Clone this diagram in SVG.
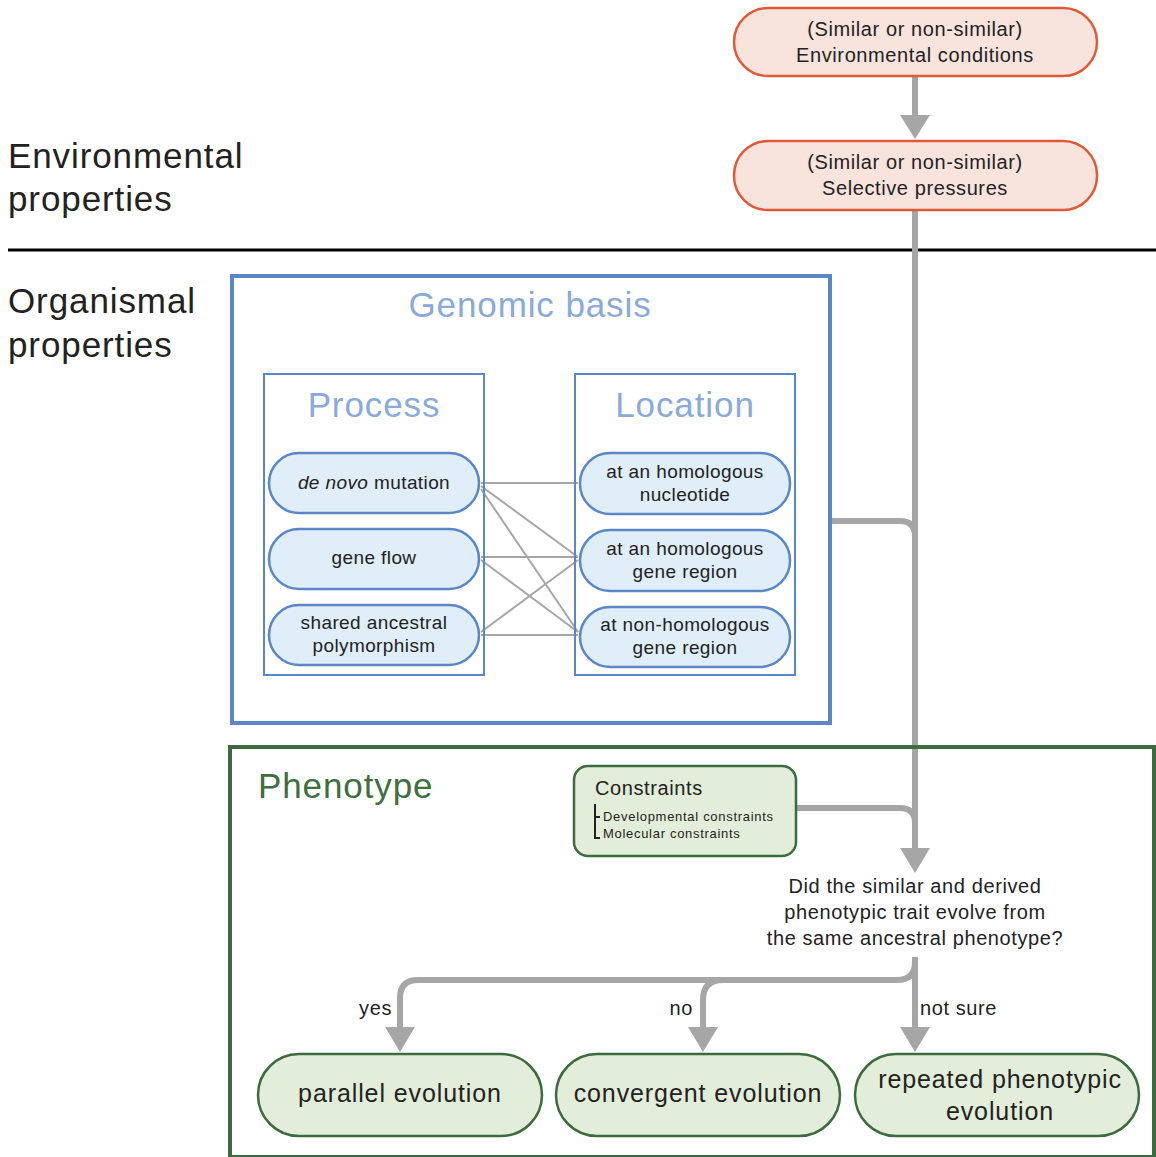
<svg xmlns="http://www.w3.org/2000/svg" width="1156" height="1157" viewBox="0 0 1156 1157">
<style>
text{font-family:"Liberation Sans",Arial,sans-serif;fill:#222}
.env{fill:#f9e4dd;stroke:#e05a3a;stroke-width:2.5}
.blue{fill:#dfeef8;stroke:#5b87c7;stroke-width:2.5}
.green{fill:#e2eed9;stroke:#3d6b3f;stroke-width:2.5}
.conn{fill:none;stroke:#a6a6a6;stroke-width:6}
.thin{fill:none;stroke:#a6a6a6;stroke-width:2}
.head{fill:#a6a6a6}
.big{font-size:35px;letter-spacing:0.9px}
.mid{font-size:20px;letter-spacing:0.6px}
.pill{font-size:19px;letter-spacing:0.4px}
.res{font-size:25px;letter-spacing:0.9px}
.small{font-size:13px;letter-spacing:0.7px}
.c{text-anchor:middle}
</style>
<rect width="1156" height="1157" fill="#fff"/>
<g id="labels">
<text class="big" x="8" y="168">Environmental</text>
<text class="big" x="8" y="211">properties</text>
<text class="big" x="8" y="313">Organismal</text>
<text class="big" x="8" y="357">properties</text>
<line x1="8" y1="250" x2="1156" y2="250" stroke="#000" stroke-width="3"/>
</g>
<g id="connectors">
<line class="conn" x1="915" y1="76" x2="915" y2="116"/>
<polygon class="head" points="900,115 930,115 915,139"/>
<line class="conn" x1="915" y1="210" x2="915" y2="850"/>
<polygon class="head" points="900,848 930,848 915,873"/>
<path class="conn" d="M830,521 H900 Q915,521 915,536"/>
<path class="conn" d="M796,808 H900 Q915,808 915,823"/>
<line class="conn" x1="915" y1="957" x2="915" y2="1029"/>
<polygon class="head" points="900,1027 930,1027 915,1052"/>
<path class="conn" d="M915,962 Q915,980 897,980 H418 Q400,980 400,998 V1029"/>
<polygon class="head" points="385,1027 415,1027 400,1052"/>
<path class="conn" d="M723,980 Q703,980 703,1000 V1029"/>
<polygon class="head" points="688,1027 718,1027 703,1052"/>
<line class="thin" x1="481" y1="483" x2="578" y2="483"/>
<line class="thin" x1="481" y1="486" x2="578" y2="557"/>
<line class="thin" x1="481" y1="489" x2="578" y2="632"/>
<line class="thin" x1="481" y1="557" x2="578" y2="557"/>
<line class="thin" x1="481" y1="560" x2="578" y2="632"/>
<line class="thin" x1="481" y1="632" x2="578" y2="560"/>
<line class="thin" x1="481" y1="635" x2="578" y2="635"/>
</g>
<g id="env-conditions">
<rect class="env" x="734" y="8" width="363" height="68" rx="34"/>
<text class="mid c" x="915" y="36">(Similar or non-similar)</text>
<text class="mid c" x="915" y="62">Environmental conditions</text>
</g>
<g id="selective-pressures">
<rect class="env" x="734" y="141" width="363" height="69" rx="34"/>
<text class="mid c" x="915" y="169">(Similar or non-similar)</text>
<text class="mid c" x="915" y="195">Selective pressures</text>
</g>
<g id="genomic-basis">
<rect x="232" y="276" width="598" height="447" fill="none" stroke="#5b87c7" stroke-width="4"/>
<text class="big c" x="530" y="317" style="fill:#8aaad8">Genomic basis</text>
</g>
<g id="process">
<rect x="264" y="374" width="220" height="301" fill="none" stroke="#5b87c7" stroke-width="2"/>
<text class="big c" x="374" y="417" style="fill:#8aaad8">Process</text>
</g>
<g id="location">
<rect x="575" y="374" width="220" height="301" fill="none" stroke="#5b87c7" stroke-width="2"/>
<text class="big c" x="685" y="417" style="fill:#8aaad8">Location</text>
</g>
<g id="de-novo">
<rect class="blue" x="269" y="453" width="210" height="60" rx="30"/>
<text class="pill c" x="374" y="489"><tspan font-style="italic">de novo</tspan> mutation</text>
</g>
<g id="gene-flow">
<rect class="blue" x="269" y="529" width="210" height="60" rx="30"/>
<text class="pill c" x="374" y="564">gene flow</text>
</g>
<g id="shared-ancestral">
<rect class="blue" x="269" y="605" width="210" height="60" rx="30"/>
<text class="pill c" x="374" y="629">shared ancestral</text>
<text class="pill c" x="374" y="652">polymorphism</text>
</g>
<g id="homologous-nucleotide">
<rect class="blue" x="580" y="453" width="210" height="61" rx="30"/>
<text class="pill c" x="685" y="478">at an homologous</text>
<text class="pill c" x="685" y="501">nucleotide</text>
</g>
<g id="homologous-gene-region">
<rect class="blue" x="580" y="530" width="210" height="61" rx="30"/>
<text class="pill c" x="685" y="555">at an homologous</text>
<text class="pill c" x="685" y="578">gene region</text>
</g>
<g id="non-homologous-gene-region">
<rect class="blue" x="580" y="607" width="210" height="60" rx="30"/>
<text class="pill c" x="685" y="631">at non-homologous</text>
<text class="pill c" x="685" y="654">gene region</text>
</g>
<g id="phenotype">
<rect x="230" y="747" width="924" height="410" fill="none" stroke="#3d6b3f" stroke-width="4"/>
<text class="big" x="258" y="798" style="fill:#3f6e41">Phenotype</text>
</g>
<g id="constraints">
<rect class="green" x="574" y="766" width="222" height="90" rx="14"/>
<text class="mid" x="595" y="795">Constraints</text>
<path d="M600,817 H595 V804 M595,817 V838 H600" fill="none" stroke="#222" stroke-width="2"/>
<text class="small" x="603" y="821">Developmental constraints</text>
<text class="small" x="603" y="838">Molecular constraints</text>
</g>
<g id="question">
<text class="mid c" x="915" y="893">Did the similar and derived</text>
<text class="mid c" x="915" y="919">phenotypic trait evolve from</text>
<text class="mid c" x="915" y="945">the same ancestral phenotype?</text>
</g>
<g id="branch-labels">
<text class="mid" x="392" y="1015" text-anchor="end">yes</text>
<text class="mid" x="693" y="1015" text-anchor="end">no</text>
<text class="mid" x="920" y="1015">not sure</text>
</g>
<g id="parallel">
<rect class="green" x="258" y="1054" width="284" height="82" rx="41"/>
<text class="res c" x="400" y="1102">parallel evolution</text>
</g>
<g id="convergent">
<rect class="green" x="556" y="1054" width="284" height="82" rx="41"/>
<text class="res c" x="698" y="1102">convergent evolution</text>
</g>
<g id="repeated">
<rect class="green" x="855" y="1054" width="284" height="82" rx="41"/>
<text class="res c" x="1000" y="1088">repeated phenotypic</text>
<text class="res c" x="1000" y="1120">evolution</text>
</g>
</svg>
